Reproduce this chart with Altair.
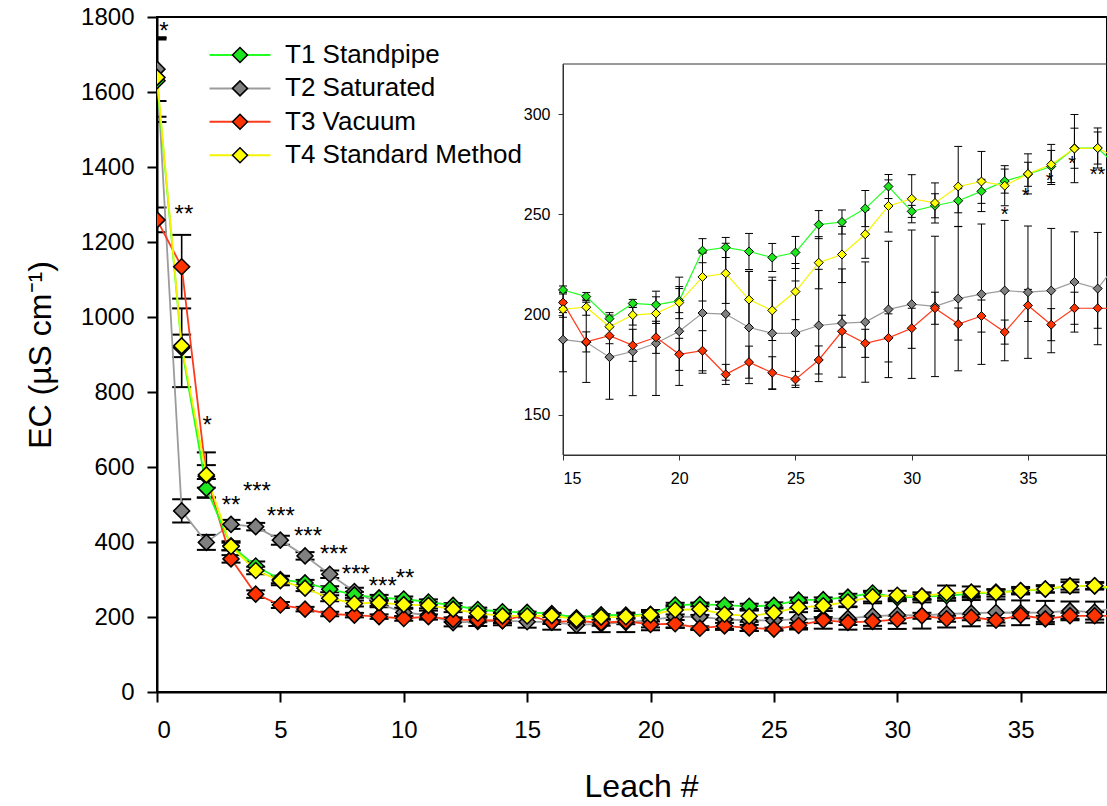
import altair as alt
import pandas as pd

# ---------------- data ----------------
leach = list(range(0, 40))

series_names = ["T1 Standpipe", "T2 Saturated", "T3 Vacuum", "T4 Standard Method"]

t1 = [1630, 918, 543, 390, 336, 300, 291, 274, 259, 251,
      248, 240, 231, 220, 214, 212.3, 209, 198, 205.6, 204.9,
      207, 231.9, 233.5, 231.5, 228.5, 231, 244.9, 246.2, 252.9, 263.9,
      251.5, 254.3, 256.8, 261.5, 266.6, 270, 273.9, 283, 283.1, 272]
t2 = [1661, 483, 399, 447, 441, 405, 363, 314, 268, 236,
      212, 205, 185, 188, 190, 187.5, 186.2, 178.8, 181.6, 185.7,
      191.7, 200.8, 200.3, 193.6, 190.7, 190.8, 194.6, 195.8, 196.3, 202.6,
      205.2, 204.1, 208, 210.2, 212, 211.2, 212, 216.3, 213, 228]
t3 = [1259, 1134, 575, 355, 261, 232, 221, 208, 205, 201,
      196, 201, 193, 192, 190, 206, 186.4, 189.5, 184.7, 188.7,
      180.2, 182, 170.2, 176.3, 171, 167.7, 177.4, 191.7, 185.7, 188.4,
      193.2, 203.2, 195.3, 199.3, 191.3, 204.6, 195, 203.2, 203.2, 203]
t4 = [1639, 923, 579, 388, 324, 297, 277, 250, 236, 238,
      233, 231, 221, 210, 203, 202.7, 203.7, 194, 199.8, 200.6,
      206, 218.8, 220.6, 207.5, 202.1, 211.5, 225.9, 230, 240.1, 254.2,
      257.8, 255.7, 263.9, 266.4, 264.3, 270.2, 274.9, 282.8, 283.1, 277]

se1 = [110, 105, 25, 12, 12, 10, 8, 8, 8, 8,
       7, 7, 6, 5, 5, 2, 2, 3, 2, 4,
       6, 6, 5, 9, 7, 8, 7, 6, 9, 6,
       3, 6, 6, 6, 6, 6, 8, 10, 8, 8]
se2 = [85, 31, 20, 12, 10, 12, 10, 10, 10, 10,
       10, 12, 10, 12, 12, 16, 20, 21, 22, 26,
       27, 30, 33, 28, 28, 26, 28, 27, 30, 34,
       37, 35, 36, 35, 35, 33, 31, 25, 28, 28]
se3 = [33, 85, 30, 10, 10, 8, 6, 6, 6, 6,
       6, 6, 6, 6, 6, 5, 5, 4, 8, 8,
       8, 10, 5, 8, 8, 4, 7, 8, 7, 12,
       10, 8, 8, 8, 6, 8, 8, 8, 10, 10]
se4 = [105, 30, 60, 10, 10, 12, 8, 8, 8, 8,
       8, 8, 8, 8, 8, 4, 4, 5, 5, 5,
       8, 12, 15, 14, 15, 14, 13, 14, 12, 13,
       12, 10, 20, 15, 10, 10, 10, 17, 10, 10]

# significance marks (main panel and inset)
star_x = [0.28, 1.09, 2.03, 3.0, 4.05, 5.02, 6.12, 7.17, 8.06, 9.15, 10.05]
star_y = [1772, 1283, 719, 508, 544, 477, 424, 375, 323, 291, 311]
star_t = ["*", "**", "*", "**", "***", "***", "***", "***", "***", "***", "**"]

istar_x = [34.0, 34.9, 35.93, 36.9, 37.99]
istar_y = [251.2, 260.8, 268.2, 276.5, 271]
istar_t = ["*", "*", "*", "*", "**"]

fill_colors = ["#1ee61e", "#808080", "#ff3300", "#ffff00"]
line_colors = ["#22ff22", "#9c9c9c", "#ff3a1a", "#f4f400"]

# ---------------- tables ----------------
vals = {"T1 Standpipe": (t1, se1), "T2 Saturated": (t2, se2),
        "T3 Vacuum": (t3, se3), "T4 Standard Method": (t4, se4)}
draw_order = ["T2 Saturated", "T3 Vacuum", "T1 Standpipe", "T4 Standard Method"]
rows = []
for name in draw_order:
    v, s = vals[name]
    for x, y, e in zip(leach, v, s):
        rows.append({"leach": x, "ec": y, "lo": y - e, "hi": y + e,
                     "series": name, "series_l": name + " "})
df = pd.DataFrame(rows)
df_in = df[df["leach"] >= 15]

stars = pd.DataFrame({"x": star_x, "y": star_y, "t": star_t})
istars = pd.DataFrame({"x": istar_x, "y": istar_y, "t": istar_t})
frame = pd.DataFrame({"x": [15], "x2": [45], "y": [130], "y2": [325]})

FONT = "Liberation Sans"
line_domain = [n + " " for n in series_names]

# ---------------- main panel ----------------
mx = alt.Scale(domain=[0, 38.5], nice=False, zero=False)
my = alt.Scale(domain=[0, 1800], nice=False)

main_xaxis = alt.Axis(values=list(range(0, 40, 5)), title="Leach #", grid=False,
                      tickSize=10, tickWidth=2, domainWidth=2, domainColor="black",
                      tickColor="black", labelFont=FONT, labelFontSize=24,
                      labelColor="black", labelPadding=16, titleFont=FONT,
                      titleFontSize=32, titleFontWeight="normal", titleColor="black",
                      titlePadding=29, titleX=484)
main_yaxis = alt.Axis(values=list(range(0, 2000, 200)), title="EC (µS cm⁻¹)",
                      format="d",
                      grid=False, tickSize=10, tickWidth=2, domainWidth=2,
                      domainColor="black", tickColor="black", labelFont=FONT,
                      labelFontSize=24, labelColor="black", labelPadding=13,
                      titleFont=FONT, titleFontSize=32, titleFontWeight="normal",
                      titleColor="black", titlePadding=23)

mbase = alt.Chart(df)
m_rule = mbase.mark_rule(color="black", strokeWidth=1.6, clip=True).encode(
    x=alt.X("leach:Q", scale=mx, axis=main_xaxis),
    y=alt.Y("lo:Q", scale=my, axis=main_yaxis),
    y2="hi:Q")
m_cap_lo = mbase.mark_tick(color="black", orient="horizontal", size=19,
                           thickness=2, opacity=1, clip=True).encode(
    x=alt.X("leach:Q", scale=mx), y=alt.Y("lo:Q", scale=my))
m_cap_hi = mbase.mark_tick(color="black", orient="horizontal", size=19,
                           thickness=2, opacity=1, clip=True).encode(
    x=alt.X("leach:Q", scale=mx), y=alt.Y("hi:Q", scale=my))
m_line = mbase.mark_line(strokeWidth=1.8, clip=True).encode(
    x=alt.X("leach:Q", scale=mx), y=alt.Y("ec:Q", scale=my),
    stroke=alt.Stroke("series_l:N",
                      scale=alt.Scale(domain=line_domain, range=line_colors),
                      legend=alt.Legend(orient="none", legendX=70, legendY=25,
                                        title=None, symbolType="M-4,0L4,0",
                                        symbolSize=232, symbolStrokeWidth=2,
                                        labelFontSize=26, labelFont=FONT,
                                        labelOpacity=0, labelOffset=32,
                                        labelLimit=0,
                                        rowPadding=7.4, padding=0)),
    order="leach:Q")
m_pts = mbase.mark_point(shape="diamond", filled=True, size=256, stroke="black",
                         strokeWidth=1.5, opacity=1, clip=True).encode(
    x=alt.X("leach:Q", scale=mx), y=alt.Y("ec:Q", scale=my),
    fill=alt.Fill("series:N",
                  scale=alt.Scale(domain=series_names, range=fill_colors),
                  legend=alt.Legend(orient="none", legendX=70, legendY=25,
                                    title=None, symbolType="diamond",
                                    symbolSize=225, symbolStrokeColor="black",
                                    symbolStrokeWidth=1.5, labelFontSize=26,
                                    labelFont=FONT, labelColor="black",
                                    labelLimit=0,
                                    labelOffset=32, rowPadding=7.4, padding=0)))
m_stars = alt.Chart(stars).mark_text(font=FONT, fontSize=24, color="black",
                                     dy=4).encode(
    x=alt.X("x:Q", scale=mx), y=alt.Y("y:Q", scale=my), text="t:N")

main = alt.layer(m_rule, m_cap_lo, m_cap_hi, m_line, m_pts, m_stars)

# ---------------- inset ----------------
ix = alt.Scale(domain=[15, 38.4], range=[406, 950], nice=False, zero=False)
iy = alt.Scale(domain=[130, 325], range=[438, 47], nice=False, zero=False)

in_xaxis = alt.Axis(orient="bottom", offset=-237, values=[15, 20, 25, 30, 35],
                    title=None, grid=False, tickSize=5, tickWidth=1,
                    domainWidth=1, domainColor="#333333", tickColor="#333333",
                    labelFont=FONT, labelFontSize=16, labelColor="black",
                    labelPadding=10)
in_yaxis = alt.Axis(orient="left", offset=-406, values=[150, 200, 250, 300],
                    title=None, grid=False, tickSize=5, tickWidth=1,
                    domainWidth=1, domainColor="#333333", tickColor="#333333",
                    labelFont=FONT, labelFontSize=16, labelColor="black",
                    labelPadding=8)

i_frame = alt.Chart(frame).mark_rect(fill="white", fillOpacity=0, stroke="#333333",
                                     strokeWidth=1, clip=True).encode(
    x=alt.X("x:Q", scale=ix, axis=in_xaxis), x2="x2:Q",
    y=alt.Y("y:Q", scale=iy, axis=in_yaxis), y2="y2:Q")
ibase = alt.Chart(df_in)
i_rule = ibase.mark_rule(color="black", strokeWidth=1, clip=True).encode(
    x=alt.X("leach:Q", scale=ix), y=alt.Y("lo:Q", scale=iy), y2="hi:Q")
i_cap_lo = ibase.mark_tick(color="black", orient="horizontal", size=8,
                           thickness=1, opacity=1, clip=True).encode(
    x=alt.X("leach:Q", scale=ix), y=alt.Y("lo:Q", scale=iy))
i_cap_hi = ibase.mark_tick(color="black", orient="horizontal", size=8,
                           thickness=1, opacity=1, clip=True).encode(
    x=alt.X("leach:Q", scale=ix), y=alt.Y("hi:Q", scale=iy))
i_line = ibase.mark_line(strokeWidth=1.2, clip=True).encode(
    x=alt.X("leach:Q", scale=ix), y=alt.Y("ec:Q", scale=iy),
    stroke=alt.Stroke("series_l:N",
                      scale=alt.Scale(domain=line_domain, range=line_colors),
                      legend=None),
    order="leach:Q")
i_pts = ibase.mark_point(shape="diamond", filled=True, size=81, stroke="black",
                         strokeWidth=1, opacity=1, clip=True).encode(
    x=alt.X("leach:Q", scale=ix), y=alt.Y("ec:Q", scale=iy),
    fill=alt.Fill("series:N",
                  scale=alt.Scale(domain=series_names, range=fill_colors),
                  legend=None))
i_stars = alt.Chart(istars).mark_text(font=FONT, fontSize=20, color="black",
                                      dy=3, clip=True).encode(
    x=alt.X("x:Q", scale=ix), y=alt.Y("y:Q", scale=iy), text="t:N")

inset = alt.layer(i_frame, i_rule, i_cap_lo, i_cap_hi, i_line, i_pts, i_stars)

chart = alt.layer(main, inset).resolve_scale(
    x="independent", y="independent"
).properties(
    width=950, height=675, autosize="none",
    padding={"left": 157, "top": 17, "right": 0, "bottom": 114},
    background="white"
).configure_view(stroke="black", strokeWidth=2)

chart.save("out.html", embed_options={"renderer": "svg", "actions": False})
